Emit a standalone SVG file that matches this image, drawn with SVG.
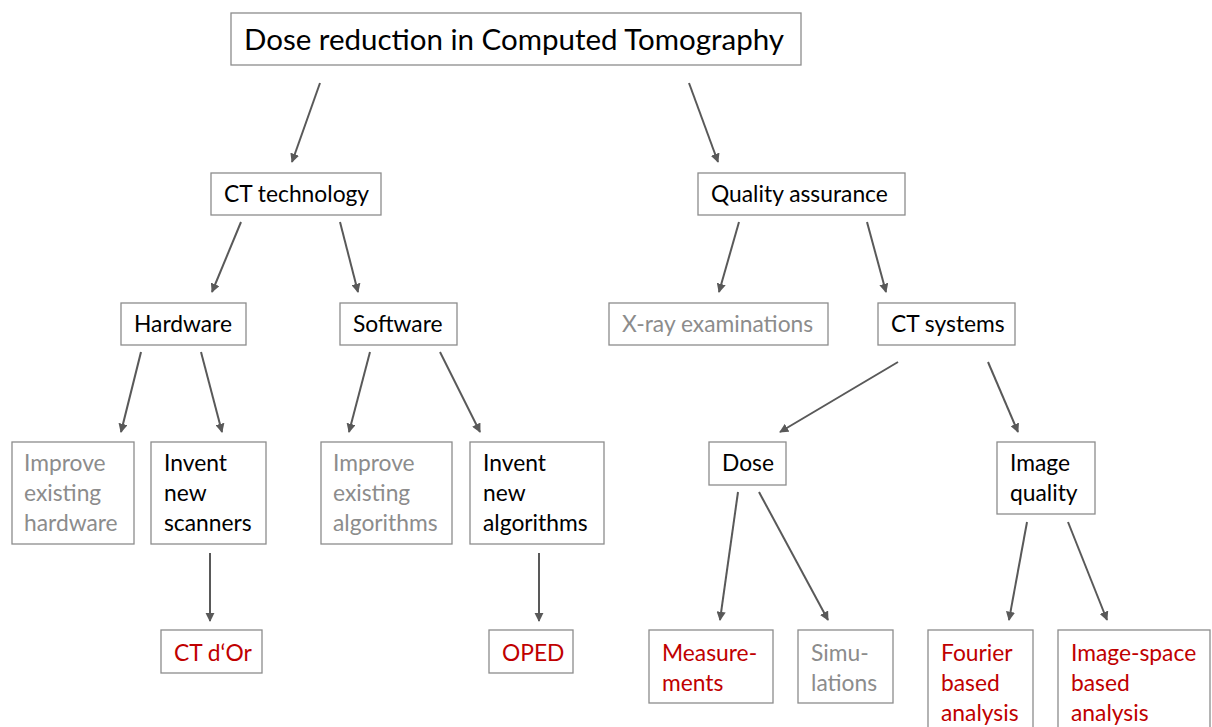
<svg xmlns="http://www.w3.org/2000/svg" width="1212" height="727" viewBox="0 0 1212 727">
  <defs>
    <marker id="arrow" viewBox="0 0 10 10" refX="9" refY="5" markerWidth="4.6" markerHeight="4.6" markerUnits="strokeWidth" orient="auto">
      <path d="M0,0 L10,5 L0,10 z" fill="#595959"/>
    </marker>
    <style>
      .box { fill: #ffffff; stroke: #8c8c8c; stroke-width: 1.3; }
      text { font-family: Lato, "Liberation Sans", sans-serif; font-size: 22.8px; }
      .title { font-size: 29.5px; }
      .dark { fill: #000000; }
      .muted { fill: #8c8c8c; }
      .accent { fill: #c00000; }
      .conn line { stroke: #595959; stroke-width: 2; marker-end: url(#arrow); }
    </style>
  </defs>
  <rect width="1212" height="727" fill="#ffffff"/>

  <!-- connectors -->
  <g id="connectors" class="conn">
    <line x1="320" y1="83" x2="292" y2="162"/>
    <line x1="689" y1="83" x2="718" y2="162"/>
    <line x1="241" y1="222" x2="212" y2="292"/>
    <line x1="340" y1="222" x2="358" y2="292"/>
    <line x1="739" y1="222" x2="719" y2="292"/>
    <line x1="867" y1="222" x2="886" y2="292"/>
    <line x1="141" y1="352" x2="121" y2="432"/>
    <line x1="201" y1="352" x2="222" y2="432"/>
    <line x1="370" y1="352" x2="349" y2="432"/>
    <line x1="440" y1="352" x2="480" y2="432"/>
    <line x1="898" y1="362" x2="780" y2="432"/>
    <line x1="988" y1="362" x2="1018" y2="432"/>
    <line x1="210" y1="553" x2="210" y2="621"/>
    <line x1="539" y1="553" x2="539" y2="621"/>
    <line x1="738" y1="492" x2="720" y2="620"/>
    <line x1="759" y1="492" x2="828" y2="620"/>
    <line x1="1027" y1="522" x2="1009" y2="620"/>
    <line x1="1068" y1="522" x2="1107" y2="620"/>
  </g>

  <g id="root">
    <rect class="box" x="231" y="13" width="570" height="52"/>
    <text class="title dark" x="244" y="50">Dose reduction in Computed Tomography</text>
  </g>

  <g id="ct-technology">
    <rect class="box" x="211" y="173" width="170" height="42"/>
    <text class="dark" x="224" y="202">CT technology</text>
  </g>
  <g id="quality-assurance">
    <rect class="box" x="698" y="173" width="207" height="42"/>
    <text class="dark" x="711" y="202">Quality assurance</text>
  </g>

  <g id="hardware">
    <rect class="box" x="121" y="303" width="125" height="42"/>
    <text class="dark" x="134" y="332">Hardware</text>
  </g>
  <g id="software">
    <rect class="box" x="340" y="303" width="117" height="42"/>
    <text class="dark" x="353" y="332">Software</text>
  </g>
  <g id="xray-examinations">
    <rect class="box" x="609" y="303" width="219" height="42"/>
    <text class="muted" x="622" y="332">X-ray examinations</text>
  </g>
  <g id="ct-systems">
    <rect class="box" x="878" y="303" width="137" height="42"/>
    <text class="dark" x="891" y="332">CT systems</text>
  </g>

  <g id="improve-hardware">
    <rect class="box" x="12" y="442" width="122" height="102"/>
    <text class="muted" x="24" y="471">Improve</text>
    <text class="muted" x="24" y="501">existing</text>
    <text class="muted" x="24" y="531">hardware</text>
  </g>
  <g id="invent-scanners">
    <rect class="box" x="151" y="442" width="115" height="102"/>
    <text class="dark" x="164" y="471">Invent</text>
    <text class="dark" x="164" y="501">new</text>
    <text class="dark" x="164" y="531">scanners</text>
  </g>
  <g id="improve-algorithms">
    <rect class="box" x="321" y="442" width="131" height="102"/>
    <text class="muted" x="333" y="471">Improve</text>
    <text class="muted" x="333" y="501">existing</text>
    <text class="muted" x="333" y="531">algorithms</text>
  </g>
  <g id="invent-algorithms">
    <rect class="box" x="470" y="442" width="134" height="102"/>
    <text class="dark" x="483" y="471">Invent</text>
    <text class="dark" x="483" y="501">new</text>
    <text class="dark" x="483" y="531">algorithms</text>
  </g>
  <g id="dose">
    <rect class="box" x="709" y="442" width="77" height="43"/>
    <text class="dark" x="722" y="471">Dose</text>
  </g>
  <g id="image-quality">
    <rect class="box" x="997" y="442" width="98" height="72"/>
    <text class="dark" x="1010" y="471">Image</text>
    <text class="dark" x="1010" y="501">quality</text>
  </g>

  <g id="ct-dor">
    <rect class="box" x="161" y="630" width="101" height="43"/>
    <text class="accent" x="174" y="661">CT d‘Or</text>
  </g>
  <g id="oped">
    <rect class="box" x="489" y="630" width="84" height="43"/>
    <text class="accent" x="502" y="661">OPED</text>
  </g>
  <g id="measurements">
    <rect class="box" x="649" y="630" width="124" height="73"/>
    <text class="accent" x="662" y="661">Measure-</text>
    <text class="accent" x="662" y="691">ments</text>
  </g>
  <g id="simulations">
    <rect class="box" x="798" y="630" width="95" height="73"/>
    <text class="muted" x="811" y="661">Simu-</text>
    <text class="muted" x="811" y="691">lations</text>
  </g>
  <g id="fourier-analysis">
    <rect class="box" x="928" y="630" width="105" height="110"/>
    <text class="accent" x="941" y="661">Fourier</text>
    <text class="accent" x="941" y="691">based</text>
    <text class="accent" x="941" y="721">analysis</text>
  </g>
  <g id="image-space-analysis">
    <rect class="box" x="1058" y="630" width="152" height="110"/>
    <text class="accent" x="1071" y="661">Image-space</text>
    <text class="accent" x="1071" y="691">based</text>
    <text class="accent" x="1071" y="721">analysis</text>
  </g>
</svg>
